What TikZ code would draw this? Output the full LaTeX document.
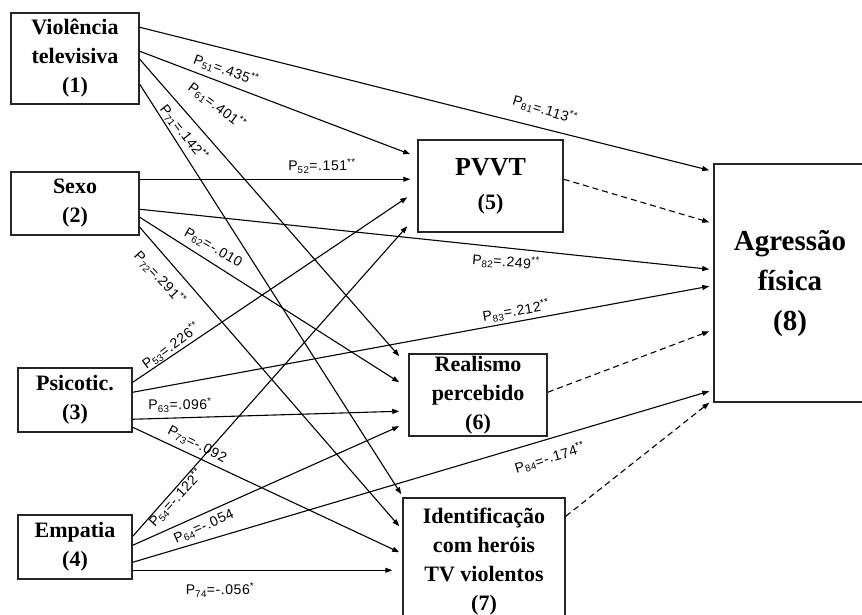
\documentclass[tikz,border=0pt]{standalone}
\usepackage{fontspec}
\setmainfont{Liberation Serif}
\newfontfamily\lblfont[LetterSpace=4]{Liberation Sans}
\newfontfamily\boxfont{Liberation Serif}
\usetikzlibrary{arrows.meta,calc}
\begin{document}
\begin{tikzpicture}[x=1pt,y=-1pt,
  box/.style={draw=black!85, line width=1.5pt, fill=white, align=center, inner sep=0pt,
    font=\boxfont\bfseries\fontsize{22}{29}\selectfont},
  lbl/.style={font=\lblfont\fontsize{14}{15}\selectfont, inner sep=0pt},
  arr/.style={line width=1.1pt, -{Triangle[length=7pt,width=5pt]}},
  darr/.style={arr, dash pattern=on 6pt off 4pt}]
\useasboundingbox (0,0) rectangle (862,614);

% boxes
\node[box, minimum width=128pt, minimum height=91pt] (v1) at (75,58.5) {Violência\\televisiva\\(1)};
\node[box, minimum width=128pt, minimum height=63pt] (v2) at (75,203.5) {Sexo\\(2)};
\node[box, minimum width=114pt, minimum height=64pt] (v3) at (75,400) {Psicotic.\\(3)};
\node[box, minimum width=114pt, minimum height=64pt] (v4) at (75,547) {Empatia\\(4)};
\node[box, minimum width=145pt, minimum height=92pt, font=\boxfont\bfseries\fontsize{26}{34}\selectfont] (v5) at (490.5,186) {PVVT\\{\fontsize{22}{34}\selectfont (5)}};
\node[box, minimum width=138pt, minimum height=82pt] (v6) at (478,395) {Realismo\\percebido\\(6)};
\node[box, minimum width=162pt, minimum height=128pt] (v7) at (484,562) {Identificação\\com heróis\\TV violentos\\(7)};
\node[box, minimum width=152pt, minimum height=238pt, font=\boxfont\bfseries\fontsize{29}{40}\selectfont] (v8) at (790,283) {Agressão\\física\\(8)};

% from 1
\draw[arr] ([yshift=-15pt]v1.north east) -- ([xshift=-4pt,yshift=-7pt]v8.north west);
\draw[arr] ([yshift=-39pt]v1.north east) -- ([xshift=-7pt,yshift=-15pt]v5.north west);
\draw[arr] ([yshift=-47pt]v1.north east) -- ([xshift=-9pt,yshift=-3pt]v6.north west);
\draw[arr] ([yshift=-72pt]v1.north east) -- ([xshift=-1pt,yshift=3pt]v7.north west);
% from 2
\draw[arr] ([yshift=-8pt]v2.north east) -- ([xshift=-7pt,yshift=-40pt]v5.north west);
\draw[arr] ([yshift=-38pt]v2.north east) -- ([xshift=-4pt,yshift=-106pt]v8.north west);
\draw[arr] ([yshift=-46pt]v2.north east) -- ([xshift=-9pt,yshift=-29pt]v6.north west);
\draw[arr] ([yshift=-56pt]v2.north east) -- ([xshift=-3pt,yshift=-29pt]v7.north west);
% from 3
\draw[arr] ([yshift=-15pt]v3.north east) -- ([xshift=-10pt,yshift=-58pt]v5.north west);
\draw[arr] ([yshift=-25pt]v3.north east) -- ([xshift=-4pt,yshift=-123pt]v8.north west);
\draw[arr] ([yshift=-52pt]v3.north east) -- ([xshift=-9pt,yshift=-58pt]v6.north west);
\draw[arr] ([yshift=-60pt]v3.north east) -- ([xshift=-3pt,yshift=-55pt]v7.north west);
% from 4
\draw[arr] ([yshift=-22pt]v4.north east) -- ([xshift=-10pt,yshift=-87pt]v5.north west);
\draw[arr] ([yshift=-31pt]v4.north east) -- ([xshift=-9pt,yshift=-73pt]v6.north west);
\draw[arr] ([yshift=-48pt]v4.north east) -- ([xshift=-4pt,yshift=-228pt]v8.north west);
\draw[arr] ([yshift=-56pt]v4.north east) -- ([xshift=-10pt,yshift=-73pt]v7.north west);
% dashed to 8
\draw[darr] ([yshift=-40pt]v5.north east) -- ([xshift=-4pt,yshift=-59pt]v8.north west);
\draw[darr] ([yshift=-39pt]v6.north east) -- ([xshift=-4pt,yshift=-168pt]v8.north west);
\draw[darr] ([yshift=-19pt]v7.north east) -- ([xshift=-4pt]v8.south west);

% labels
\node[lbl, rotate=-20] (l51) at (226,70) {P\textsubscript{51}=.435\textsuperscript{**}};
\node[lbl, rotate=-37] (l61) at (217,106) {P\textsubscript{61}=.401\textsuperscript{**}};
\node[lbl, rotate=-52] (l71) at (184,133) {P\textsubscript{71}=.142\textsuperscript{**}};
\node[lbl, rotate=-17] (l81) at (545,110) {P\textsubscript{81}=.113\textsuperscript{**}};
\node[lbl] (l52) at (322,166) {P\textsubscript{52}=.151\textsuperscript{**}};
\node[lbl, rotate=-30] (l62) at (213,248) {P\textsubscript{62}=-.010};
\node[lbl, rotate=-47] (l72) at (160,278) {P\textsubscript{72}=.291\textsuperscript{**}};
\node[lbl, rotate=-4] (l82) at (506,262) {P\textsubscript{82}=.249\textsuperscript{**}};
\node[lbl, rotate=36] (l53) at (171,346) {P\textsubscript{53}=.226\textsuperscript{**}};
\node[lbl, rotate=10] (l83) at (516,311) {P\textsubscript{83}=.212\textsuperscript{**}};
\node[lbl] (l63) at (180,405) {P\textsubscript{63}=.096\textsuperscript{*}};
\node[lbl, rotate=-27] (l73) at (197,445) {P\textsubscript{73}=-.092};
\node[lbl, rotate=47] (l54) at (176,498) {P\textsubscript{54}=-.122\textsuperscript{**}};
\node[lbl, rotate=24] (l64) at (204,527) {P\textsubscript{64}=-.054};
\node[lbl, rotate=17] (l84) at (550,458) {P\textsubscript{84}=-.174\textsuperscript{**}};
\node[lbl] (l74) at (220,590) {P\textsubscript{74}=-.056\textsuperscript{*}};
\end{tikzpicture}
\end{document}
